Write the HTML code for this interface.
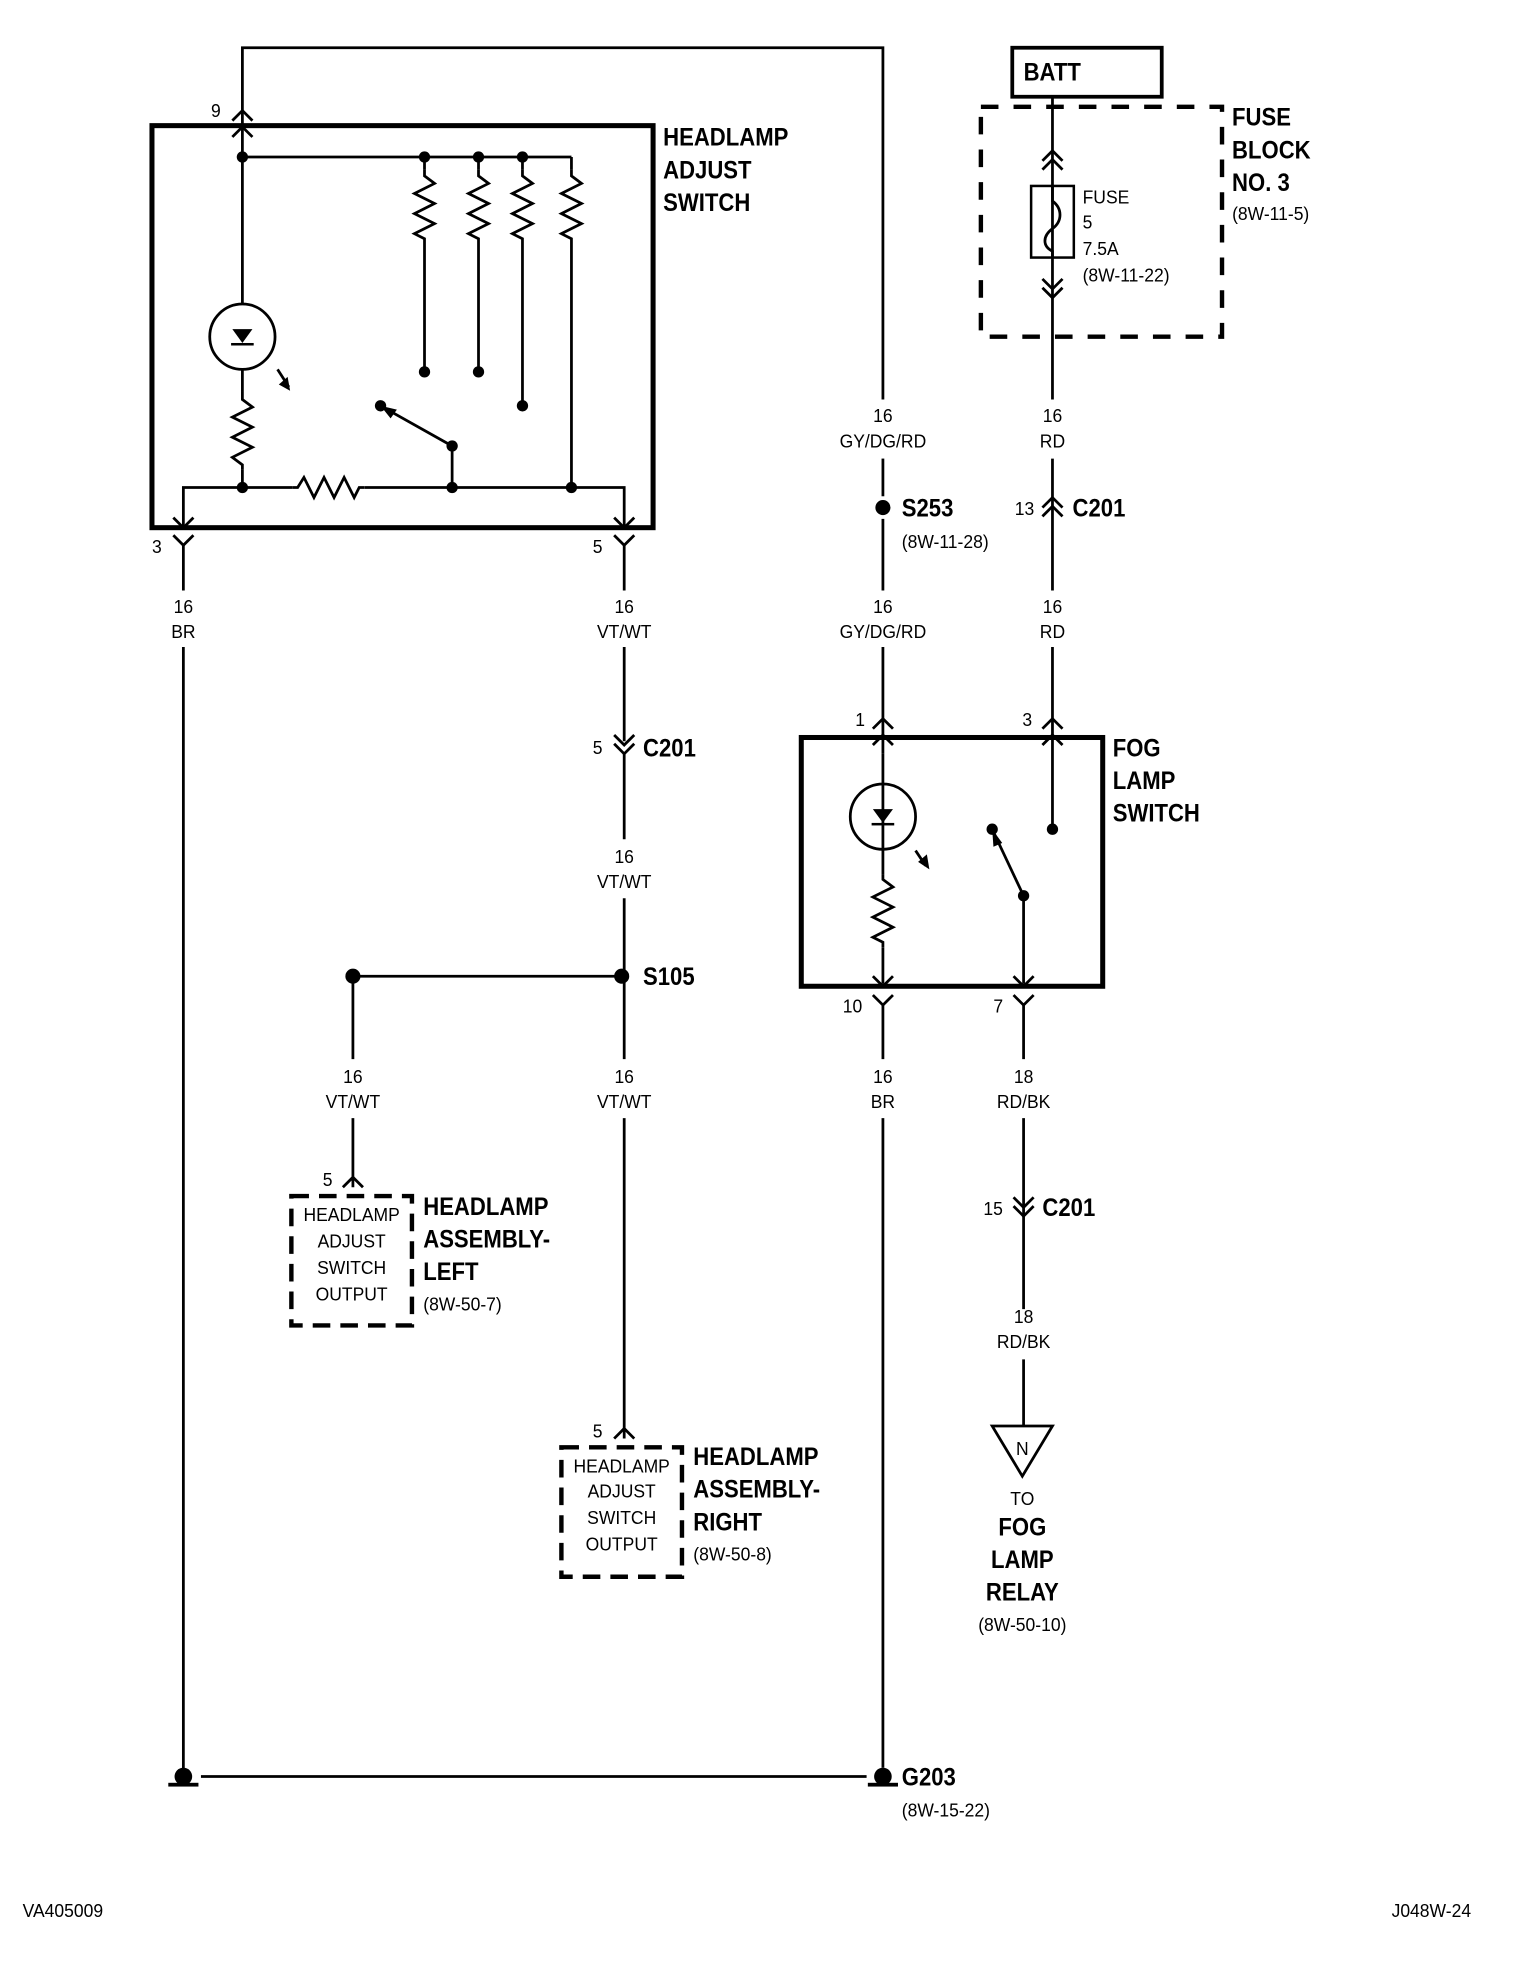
<!DOCTYPE html>
<html><head><meta charset="utf-8"><style>
html,body{margin:0;padding:0;background:#fff;}
svg{display:block}
text{font-family:"Liberation Sans",sans-serif;fill:#000;transform-box:fill-box;transform-origin:0% 50%}
.b{font-weight:bold;font-size:20px;transform:scaleX(.88)}
.s{font-size:15px;transform:scaleX(.93)}
text[text-anchor=middle]{transform-origin:50% 50%}
</style></head><body>
<svg width="1536" height="1970" viewBox="0 0 1223 1568" preserveAspectRatio="none" xmlns="http://www.w3.org/2000/svg">
<g fill="none" stroke="#000" stroke-width="2.2">
<polyline points="193,100 193,38 703,38 703,318"/>
<path d="M185,96 L193,88 L201,96"/>
<path d="M185,109 L193,101 L201,109"/>
<rect x="121" y="100" width="399" height="320" stroke-width="4"/>
<line x1="193" y1="100" x2="193" y2="242"/>
<line x1="193" y1="125" x2="455" y2="125"/>
<line x1="338" y1="125" x2="338" y2="296"/>
<line x1="381" y1="125" x2="381" y2="296"/>
<line x1="416" y1="125" x2="416" y2="323"/>
<line x1="455" y1="125" x2="455" y2="388"/>
<circle cx="193" cy="268" r="26"/>
<line x1="193" y1="294" x2="193" y2="388"/>
<line x1="221" y1="294" x2="230" y2="308"/>
<polyline points="146,420 146,388 233,388"/>
<polyline points="290,388 497,388 497,420"/>
<path d="M138,412 L146,420 L154,412"/>
<path d="M489,412 L497,420 L505,412"/>
<line x1="360" y1="388" x2="360" y2="355"/>
<line x1="360" y1="355" x2="303" y2="323"/>
</g>
<g fill="#fff" stroke="#000" stroke-width="2.2">
<rect x="183" y="312" width="20" height="62" stroke="none"/>
<rect x="330" y="135" width="18" height="58" stroke="none"/>
<rect x="373" y="135" width="18" height="58" stroke="none"/>
<rect x="408" y="135" width="18" height="58" stroke="none"/>
<rect x="447" y="135" width="18" height="58" stroke="none"/>
<rect x="233" y="380" width="57" height="16" stroke="none"/>
</g>
<g fill="none" stroke="#000" stroke-width="2.2">
<polyline points="193,312 193,318 201,324 185,332 201,340 185,348 201,356 185,364 193,370 193,374"/>
<polyline points="338,135 338,140 346,146 330,154 346,162 330,170 346,178 330,186 338,190 338,193"/>
<polyline points="381,135 381,140 389,146 373,154 389,162 373,170 389,178 373,186 381,190 381,193"/>
<polyline points="416,135 416,140 424,146 408,154 424,162 408,170 424,178 408,186 416,190 416,193"/>
<polyline points="455,135 455,140 463,146 447,154 463,162 447,170 463,178 447,186 455,190 455,193"/>
<polyline points="233,388 237,388 242,380 250,396 258,380 266,396 274,380 282,396 286,388 290,388"/>
</g>
<g fill="#000">
<polygon points="185,262 201,262 193,273"/>
<rect x="184" y="273" width="18" height="2"/>
<polygon points="231,311 222,306 229,300"/>
<polygon points="303,323 316,326 311,333"/>
<circle cx="193" cy="125" r="4.5"/><circle cx="338" cy="125" r="4.5"/><circle cx="381" cy="125" r="4.5"/><circle cx="416" cy="125" r="4.5"/>
<circle cx="338" cy="296" r="4.5"/><circle cx="381" cy="296" r="4.5"/><circle cx="416" cy="323" r="4.5"/>
<circle cx="303" cy="323" r="4.5"/><circle cx="360" cy="355" r="4.5"/>
<circle cx="193" cy="388" r="4.5"/><circle cx="360" cy="388" r="4.5"/><circle cx="455" cy="388" r="4.5"/>
</g>
<text class="b" x="528" y="116">HEADLAMP</text>
<text class="b" x="528" y="142">ADJUST</text>
<text class="b" x="528" y="168">SWITCH</text>
<text class="s" x="168" y="93">9</text>
<g fill="none" stroke="#000" stroke-width="2.2">
<path d="M138,426 L146,434 L154,426"/><line x1="146" y1="434" x2="146" y2="470"/>
<path d="M489,426 L497,434 L505,426"/><line x1="497" y1="434" x2="497" y2="470"/>
<line x1="146" y1="515" x2="146" y2="1410"/>
<line x1="160" y1="1414" x2="690" y2="1414"/>
<line x1="497" y1="515" x2="497" y2="590"/>
<path d="M489,585 L497,593 L505,585 M489,592 L497,600 L505,592"/>
<line x1="497" y1="600" x2="497" y2="668"/>
<line x1="497" y1="715" x2="497" y2="843"/>
<line x1="281" y1="777" x2="497" y2="777"/>
<line x1="281" y1="777" x2="281" y2="843"/>
<line x1="281" y1="890" x2="281" y2="945"/>
<path d="M273,945 L281,937 L289,945"/>
<line x1="497" y1="890" x2="497" y2="1145"/>
<path d="M489,1145 L497,1137 L505,1145"/>
<rect x="232" y="952" width="96" height="103" stroke-width="3.5" stroke-dasharray="14,8"/>
<rect x="447" y="1152" width="96" height="103" stroke-width="3.5" stroke-dasharray="14,8"/>
</g>
<g fill="#000">
<circle cx="146" cy="1414" r="7"/><rect x="134" y="1419" width="24" height="3"/>
<circle cx="703" cy="1414" r="7"/><rect x="691" y="1419" width="24" height="3"/>
<circle cx="281" cy="777" r="6"/><circle cx="495" cy="777" r="6"/>
<circle cx="703" cy="404" r="6"/>
</g>
<text class="s" x="121" y="440">3</text>
<text class="s" x="472" y="440">5</text>
<text class="s" x="146" y="488" text-anchor="middle">16</text>
<text class="s" x="146" y="508" text-anchor="middle">BR</text>
<text class="s" x="497" y="488" text-anchor="middle">16</text>
<text class="s" x="497" y="508" text-anchor="middle">VT/WT</text>
<text class="s" x="472" y="600">5</text>
<text class="b" x="512" y="602">C201</text>
<text class="s" x="497" y="687" text-anchor="middle">16</text>
<text class="s" x="497" y="707" text-anchor="middle">VT/WT</text>
<text class="b" x="512" y="784">S105</text>
<text class="s" x="281" y="862" text-anchor="middle">16</text>
<text class="s" x="281" y="882" text-anchor="middle">VT/WT</text>
<text class="s" x="497" y="862" text-anchor="middle">16</text>
<text class="s" x="497" y="882" text-anchor="middle">VT/WT</text>
<text class="s" x="257" y="944">5</text>
<text class="s" x="472" y="1144">5</text>
<text class="s" text-anchor="middle" x="280" y="972">HEADLAMP</text>
<text class="s" text-anchor="middle" x="280" y="993">ADJUST</text>
<text class="s" text-anchor="middle" x="280" y="1014">SWITCH</text>
<text class="s" text-anchor="middle" x="280" y="1035">OUTPUT</text>
<text class="s" text-anchor="middle" x="495" y="1172">HEADLAMP</text>
<text class="s" text-anchor="middle" x="495" y="1192">ADJUST</text>
<text class="s" text-anchor="middle" x="495" y="1213">SWITCH</text>
<text class="s" text-anchor="middle" x="495" y="1234">OUTPUT</text>
<text class="b" x="337" y="967">HEADLAMP</text>
<text class="b" x="337" y="993">ASSEMBLY-</text>
<text class="b" x="337" y="1019">LEFT</text>
<text class="s" x="337" y="1043">(8W-50-7)</text>
<text class="b" x="552" y="1166">HEADLAMP</text>
<text class="b" x="552" y="1192">ASSEMBLY-</text>
<text class="b" x="552" y="1218">RIGHT</text>
<text class="s" x="552" y="1242">(8W-50-8)</text>
<text class="b" x="718" y="1421">G203</text>
<text class="s" x="718" y="1446">(8W-15-22)</text>
<g fill="none" stroke="#000" stroke-width="2.2">
<line x1="703" y1="365" x2="703" y2="395"/>
<line x1="703" y1="413" x2="703" y2="470"/>
<line x1="703" y1="515" x2="703" y2="600"/>
<path d="M695,580 L703,572 L711,580 M695,593 L703,585 L711,593"/>
<rect x="638" y="587" width="240" height="198" stroke-width="4"/>
<line x1="703" y1="600" x2="703" y2="783"/>
<circle cx="703" cy="650" r="26"/>
<line x1="729" y1="677" x2="737" y2="689"/>
<path d="M695,777 L703,785 L711,777"/>
<path d="M695,792 L703,800 L711,792"/>
<line x1="703" y1="800" x2="703" y2="843"/>
<line x1="703" y1="890" x2="703" y2="1407"/>
<line x1="838" y1="77" x2="838" y2="318"/>
<path d="M830,128 L838,120 L846,128 M830,135 L838,127 L846,135"/>
<path d="M830,222 L838,230 L846,222 M830,229 L838,237 L846,229"/>
<rect x="821" y="148" width="34" height="57" stroke-width="2"/>
<path d="M838,148 L838,160 C846,166 846,176 838,182 C830,188 830,196 838,200 L838,205" fill="none"/>
<rect x="781" y="85" width="192" height="183" stroke-width="3.5" stroke-dasharray="14,12"/>
<rect x="806" y="38" width="119" height="39" stroke-width="3"/>
<line x1="838" y1="365" x2="838" y2="470"/>
<path d="M830,404 L838,396 L846,404 M830,411 L838,403 L846,411"/>
<line x1="838" y1="515" x2="838" y2="660"/>
<path d="M830,580 L838,572 L846,580 M830,593 L838,585 L846,593"/>
<line x1="790" y1="660" x2="815" y2="713"/>
<line x1="815" y1="713" x2="815" y2="783"/>
<path d="M807,777 L815,785 L823,777"/>
<path d="M807,792 L815,800 L823,792"/>
<line x1="815" y1="800" x2="815" y2="843"/>
<line x1="815" y1="890" x2="815" y2="1042"/>
<path d="M807,953 L815,961 L823,953 M807,960 L815,968 L823,960"/>
<line x1="815" y1="1082" x2="815" y2="1135"/>
<polygon points="790,1135 838,1135 814,1175"/>
</g>
<g fill="#fff"><rect x="693" y="696" width="20" height="58"/></g>
<g fill="none" stroke="#000" stroke-width="2.2">
<polyline points="703,696 703,700 711,706 695,714 711,722 695,730 711,738 695,746 703,750 703,754"/>
</g>
<g fill="#000">
<polygon points="695,644 711,644 703,655"/>
<rect x="694" y="655" width="18" height="2"/>
<polygon points="740,692 731,686 738,680"/>
<polygon points="790,660 798,671 791,674"/>
<circle cx="838" cy="660" r="4.5"/><circle cx="790" cy="660" r="4.5"/><circle cx="815" cy="713" r="4.5"/>
</g>
<text class="s" x="703" y="336" text-anchor="middle">16</text>
<text class="s" x="703" y="356" text-anchor="middle">GY/DG/RD</text>
<text class="b" x="718" y="411">S253</text>
<text class="s" x="718" y="436">(8W-11-28)</text>
<text class="s" x="703" y="488" text-anchor="middle">16</text>
<text class="s" x="703" y="508" text-anchor="middle">GY/DG/RD</text>
<text class="s" x="681" y="578">1</text>
<text class="s" x="814" y="578">3</text>
<text class="b" x="886" y="602">FOG</text>
<text class="b" x="886" y="628">LAMP</text>
<text class="b" x="886" y="654">SWITCH</text>
<text class="s" x="671" y="806">10</text>
<text class="s" x="791" y="806">7</text>
<text class="s" x="703" y="862" text-anchor="middle">16</text>
<text class="s" x="703" y="882" text-anchor="middle">BR</text>
<text class="b" x="815" y="64">BATT</text>
<text class="b" x="981" y="100">FUSE</text>
<text class="b" x="981" y="126">BLOCK</text>
<text class="b" x="981" y="152">NO. 3</text>
<text class="s" x="981" y="175">(8W-11-5)</text>
<text class="s" x="862" y="162">FUSE</text>
<text class="s" x="862" y="182">5</text>
<text class="s" x="862" y="203">7.5A</text>
<text class="s" x="862" y="224">(8W-11-22)</text>
<text class="s" x="838" y="336" text-anchor="middle">16</text>
<text class="s" x="838" y="356" text-anchor="middle">RD</text>
<text class="s" x="808" y="410">13</text>
<text class="b" x="854" y="411">C201</text>
<text class="s" x="838" y="488" text-anchor="middle">16</text>
<text class="s" x="838" y="508" text-anchor="middle">RD</text>
<text class="s" x="815" y="862" text-anchor="middle">18</text>
<text class="s" x="815" y="882" text-anchor="middle">RD/BK</text>
<text class="s" x="783" y="967">15</text>
<text class="b" x="830" y="968">C201</text>
<text class="s" x="815" y="1053" text-anchor="middle">18</text>
<text class="s" x="815" y="1073" text-anchor="middle">RD/BK</text>
<text class="s" x="814" y="1158" text-anchor="middle">N</text>
<text class="s" x="814" y="1198" text-anchor="middle">TO</text>
<text class="b" x="814" y="1222" text-anchor="middle">FOG</text>
<text class="b" x="814" y="1248" text-anchor="middle">LAMP</text>
<text class="b" x="814" y="1274" text-anchor="middle">RELAY</text>
<text class="s" x="814" y="1298" text-anchor="middle">(8W-50-10)</text>
<text class="s" x="18" y="1526">VA405009</text>
<text class="s" x="1108" y="1526">J048W-24</text>
</svg>
</body></html>
